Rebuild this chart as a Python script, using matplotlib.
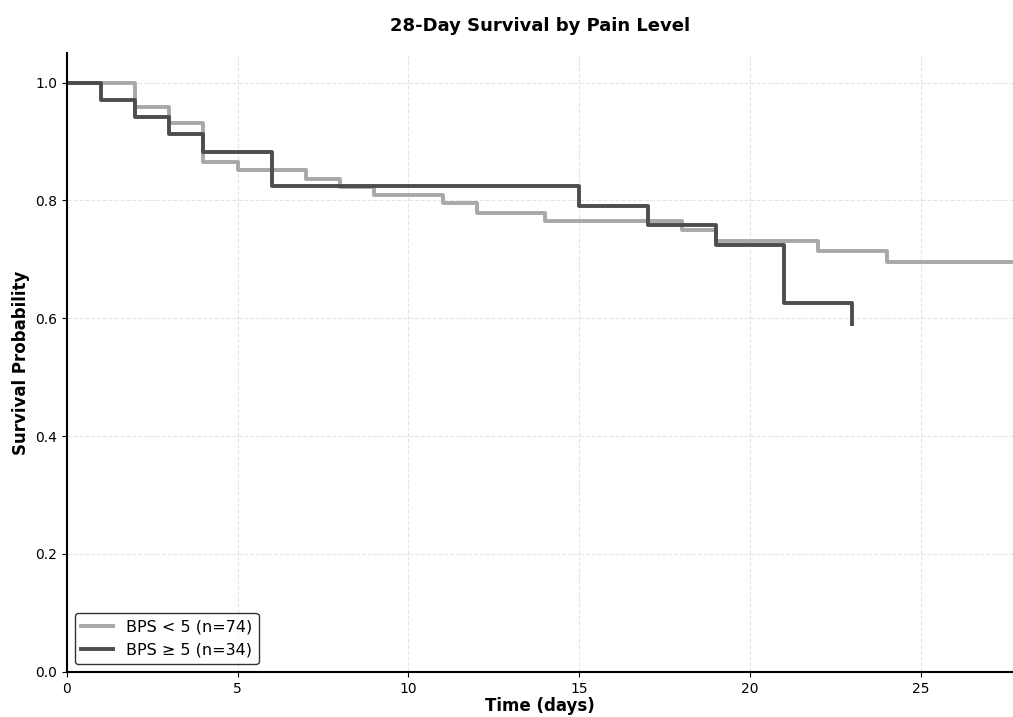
import matplotlib.pyplot as plt

# Kaplan-Meier step values
low_times = [0, 2, 3, 4, 5, 7, 8, 9, 11, 12, 14, 18, 19, 22, 24, 28]
low_surv = [1.0, 0.959, 0.932, 0.865, 0.851, 0.837, 0.823, 0.809, 0.795, 0.779, 0.765, 0.749, 0.731, 0.714, 0.696, 0.696]

high_times = [0, 1, 2, 3, 4, 6, 15, 17, 19, 21, 23]
high_surv = [1.0, 0.971, 0.941, 0.912, 0.882, 0.824, 0.791, 0.758, 0.724, 0.626, 0.590]

low_label = "BPS < 5 (n=74)"
high_label = "BPS \u2265 5 (n=34)"

fig = plt.figure(figsize=(10.13, 7.17), dpi=100)
ax = fig.add_axes([0.066, 0.063, 0.934, 0.863])

ax.step(low_times, low_surv, where="post", color="#a8a8a8", linewidth=2.8, label=low_label)
ax.step(high_times, high_surv, where="post", color="#4d4d4d", linewidth=2.8, label=high_label)

ax.set_xlim(0, 27.7)
ax.set_ylim(0, 1.05)
ax.set_xticks([0, 5, 10, 15, 20, 25])
ax.set_yticks([0.0, 0.2, 0.4, 0.6, 0.8, 1.0])
ax.grid(True, linestyle="--", color="#cccccc", alpha=0.5, linewidth=0.8)

for side in ["top", "right"]:
    ax.spines[side].set_visible(False)
ax.spines["left"].set_linewidth(1.5)
ax.spines["bottom"].set_linewidth(1.5)

ax.set_title("28-Day Survival by Pain Level", fontsize=13, fontweight="bold", pad=16)
ax.set_xlabel("Time (days)", fontsize=12, fontweight="bold", labelpad=1)
ax.set_ylabel("Survival Probability", fontsize=12, fontweight="bold")
ax.tick_params(labelsize=10)

leg = ax.legend(loc="lower left", fontsize=11.5, frameon=True, fancybox=True)
leg.get_frame().set_edgecolor("black")
leg.get_frame().set_linewidth(1.0)

fig.savefig("out.png", dpi=100)
